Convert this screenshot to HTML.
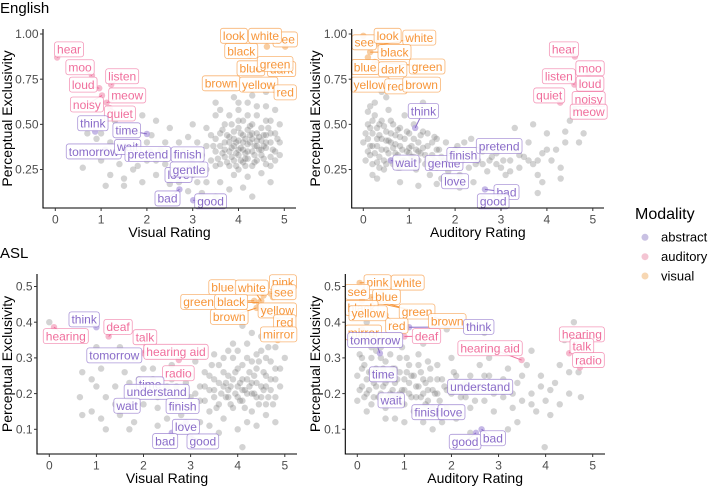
<!DOCTYPE html>
<html><head><meta charset="utf-8">
<style>
html,body{margin:0;padding:0;background:#fff;}
svg{display:block;font-family:"Liberation Sans",Arial,sans-serif;}
</style></head>
<body>
<svg id="chart" width="711" height="487" viewBox="0 0 711 487">
<text x="0" y="13" font-size="15" fill="#000">English</text>
<text x="0" y="258" font-size="15" fill="#000">ASL</text>
<g>
<text x="635" y="219" font-size="16" fill="#000">Modality</text>
<circle cx="645" cy="237.3" r="3.5" fill="#c9c1e3"/>
<text x="661" y="241.5" font-size="13" fill="#000">abstract</text>
<circle cx="645" cy="256.7" r="3.5" fill="#f4c5d3"/>
<text x="661" y="261" font-size="13" fill="#000">auditory</text>
<circle cx="645" cy="276" r="3.5" fill="#f7d7b3"/>
<text x="661" y="280.3" font-size="13" fill="#000">visual</text>
</g>
</svg>
<script>
// ---------- data ----------
const xTicks = [0,1,2,3,4,5];
const yTicksEnglish = [0.25,0.5,0.75,1.0];
const yTickLabelsEnglish = ["0.25","0.50","0.75","1.00"];
const yTicksASL = [0.1,0.2,0.3,0.4,0.5];
const yTickLabelsASL = ["0.1","0.2","0.3","0.4","0.5"];

const cloudEngVis = [3.4,.30,3.5,.35,3.5,.42,3.6,.28,3.6,.38,3.6,.45,3.7,.32,3.7,.40,3.7,.50,3.8,.27,3.8,.35,3.8,.43,3.8,.55,3.9,.30,3.9,.38,3.9,.46,4.0,.25,4.0,.33,4.0,.41,4.0,.48,4.0,.58,4.1,.29,4.1,.36,4.1,.44,4.1,.52,4.2,.31,4.2,.39,4.2,.47,4.2,.62,4.3,.27,4.3,.35,4.3,.42,4.3,.50,4.4,.30,4.4,.38,4.4,.45,4.4,.55,4.5,.33,4.5,.41,4.5,.48,4.6,.28,4.6,.37,4.6,.44,4.6,.60,4.7,.32,4.7,.40,4.7,.52,4.8,.35,4.8,.45,4.9,.40,3.3,.25,3.2,.33,3.1,.40,3.0,.28,3.0,.22,3.9,.22,4.2,.21,4.5,.23,4.8,.58,3.5,.55,3.3,.48,4.3,.66,4.6,.68,3.9,.65,3.95,.40,4.05,.37,4.15,.42,4.25,.40,4.35,.33,3.85,.37,3.75,.44,4.45,.36,4.55,.38,4.05,.30,4.15,.34,3.65,.34,
0.7,.45,0.9,.42,1.0,.30,1.1,.16,1.2,.40,1.3,.35,1.4,.28,1.5,.20,1.6,.45,1.7,.25,1.8,.38,1.9,.18,2.0,.30,2.1,.44,2.2,.22,2.3,.36,2.4,.28,2.5,.48,2.5,.17,2.6,.33,2.7,.40,2.8,.25,2.9,.43,2.9,.13,3.0,.50,1.9,.55,1.3,.52,0.6,.26,1.8,.27,2.2,.52,2.7,.18,3.1,.18,3.2,.12,3.5,.10,4.1,.15,4.3,.10,3.6,.18,
3.45,.38,3.55,.31,3.65,.47,3.75,.29,3.85,.50,3.95,.34,4.05,.45,4.15,.27,4.25,.49,4.35,.38,4.45,.43,4.55,.31,4.65,.48,4.75,.36,4.85,.42,3.9,.42,4.0,.36,4.1,.40,4.2,.35,4.3,.45,4.4,.41,4.5,.36,4.6,.40,4.7,.45,3.8,.40,3.7,.36,4.0,.52,4.2,.55,4.4,.60,4.6,.52,3.6,.58,3.4,.44,3.3,.38,3.2,.28,3.1,.24,4.8,.30,4.9,.50,4.7,.27,4.9,.33,3.5,.27,3.85,.32,4.15,.31,4.35,.29,4.55,.44,4.25,.44,3.95,.27,2.4,.40,2.0,.40,1.6,.35,1.1,.35,1.0,.45,2.6,.22,2.8,.35,3.3,.18,3.8,.14,4.7,.18,2.2,.30,1.5,.16,1.2,.22,3.5,.62,4.0,.62];

const cloudEngAud = [0.0,.40,0.05,.30,0.1,.50,0.1,.35,0.15,.60,0.2,.45,0.2,.28,0.25,.55,0.3,.38,0.3,.48,0.35,.32,0.4,.52,0.4,.42,0.45,.25,0.5,.36,0.5,.46,0.55,.58,0.6,.30,0.6,.40,0.65,.50,0.7,.34,0.7,.44,0.75,.26,0.8,.38,0.8,.48,0.85,.30,0.9,.42,0.9,.55,0.95,.35,1.0,.28,1.0,.45,1.05,.38,1.1,.32,1.1,.50,1.15,.25,1.2,.40,1.25,.34,1.3,.46,1.35,.28,1.4,.38,1.45,.22,1.5,.33,1.55,.43,1.6,.26,1.65,.36,1.7,.20,1.75,.30,1.8,.40,1.85,.24,1.9,.34,2.0,.28,2.05,.38,2.1,.22,2.2,.32,2.3,.26,2.35,.42,2.4,.18,2.5,.30,2.6,.35,2.7,.24,2.8,.32,2.9,.28,3.0,.38,3.1,.22,3.2,.30,3.3,.36,3.4,.26,3.5,.32,3.6,.40,3.7,.28,3.8,.22,3.9,.34,4.0,.45,4.1,.30,4.2,.36,4.3,.26,3.8,.12,2.1,.15,1.6,.17,1.2,.16,0.8,.18,0.3,.20,0.2,.22,0.5,.65,0.4,.68,0.25,.62,1.3,.62,0.15,.33,0.35,.44,0.55,.41,0.65,.37,0.75,.47,0.45,.49,4.5,.52,4.4,.46,4.7,.40,4.6,.58,3.7,.50,3.3,.48,
0.05,.45,0.1,.42,0.15,.38,0.2,.52,0.25,.34,0.3,.42,0.35,.50,0.4,.36,0.45,.30,0.5,.41,0.55,.34,0.6,.45,0.65,.28,0.7,.39,0.75,.33,0.8,.43,0.85,.36,0.9,.30,0.95,.46,1.0,.37,1.05,.32,1.1,.42,1.15,.36,1.2,.30,1.25,.44,1.3,.37,1.35,.33,1.4,.30,1.5,.40,1.55,.30,1.6,.36,1.7,.32,1.8,.28,1.9,.30,2.0,.36,2.15,.30,2.3,.34,2.45,.28,2.6,.28,2.75,.30,2.9,.34,3.05,.30,3.2,.24,3.4,.33,3.6,.30,3.8,.30,4.0,.36,0.1,.57,0.2,.38,0.3,.29,0.5,.28,0.6,.52,0.8,.26,1.0,.34,1.2,.35,0.35,.26,0.15,.48,1.4,.45,1.6,.42,2.2,.40,2.5,.36,3.0,.26,4.4,.40,4.8,.45,3.9,.18,4.3,.20];

const cloudAslVis = [3.2,.22,3.3,.18,3.3,.26,3.4,.21,3.4,.15,3.5,.24,3.5,.19,3.6,.28,3.6,.17,3.7,.22,3.7,.13,3.8,.25,3.8,.19,3.9,.30,3.9,.16,4.0,.22,4.0,.27,4.1,.18,4.1,.24,4.2,.20,4.2,.30,4.3,.15,4.3,.23,4.4,.27,4.4,.19,4.5,.22,4.5,.32,4.6,.17,4.6,.25,4.7,.21,4.7,.29,4.8,.19,4.8,.24,4.9,.27,5.0,.30,3.95,.20,4.05,.18,4.15,.21,3.85,.22,4.25,.26,4.35,.20,3.75,.19,4.55,.26,4.45,.29,4.65,.33,4.3,.37,4.1,.39,4.5,.36,4.0,.10,4.1,.05,4.4,.11,3.2,.12,3.0,.16,2.9,.20,2.8,.14,2.7,.22,2.6,.17,2.5,.13,2.4,.20,2.3,.16,2.2,.24,2.0,.17,1.9,.21,1.8,.12,1.7,.19,1.6,.26,1.5,.14,1.4,.22,1.3,.31,1.2,.19,1.1,.27,1.0,.22,0.9,.15,0.7,.26,0.65,.19,1.0,.33,1.5,.33,1.8,.30,2.2,.27,0.0,.40,1.2,.10,1.7,.10,2.3,.11,3.0,.25,3.1,.29,2.6,.28,3.5,.31,3.8,.32,
3.3,.22,3.4,.25,3.5,.21,3.6,.23,3.7,.26,3.8,.21,3.9,.24,4.0,.19,4.1,.21,4.2,.24,4.3,.20,4.4,.23,4.5,.19,4.6,.22,4.7,.24,4.8,.27,3.55,.16,3.65,.20,3.75,.23,3.85,.17,3.95,.26,4.05,.23,4.15,.16,4.25,.22,4.35,.25,4.45,.17,4.55,.21,4.65,.19,4.75,.17,3.45,.28,4.0,.32,4.2,.34,4.4,.31,4.6,.30,4.8,.33,3.9,.34,3.7,.30,4.3,.29,4.1,.28,4.7,.36,4.9,.22,3.2,.18,3.1,.20,3.0,.19,2.9,.23,2.7,.19,2.5,.22,2.3,.19,2.1,.21,1.9,.24,1.7,.23,1.4,.17,1.1,.13,0.9,.24,0.7,.14,2.0,.27,2.6,.24,2.8,.11,3.4,.11,3.6,.09,4.2,.12,4.6,.14,4.8,.12];

const cloudAslAud = [0.0,.18,0.0,.25,0.05,.31,0.1,.22,0.15,.28,0.2,.20,0.25,.26,0.3,.17,0.3,.30,0.35,.23,0.4,.27,0.45,.19,0.5,.25,0.55,.22,0.6,.29,0.6,.16,0.65,.24,0.7,.20,0.75,.27,0.8,.13,0.8,.23,0.85,.18,0.9,.26,0.95,.21,1.0,.24,1.0,.17,1.05,.30,1.1,.20,1.15,.25,1.2,.15,1.25,.22,1.3,.28,1.35,.19,1.4,.24,1.45,.17,1.5,.21,1.55,.27,1.6,.14,1.65,.20,1.7,.24,1.75,.18,1.8,.12,1.85,.22,1.9,.16,2.0,.20,2.05,.26,2.1,.13,2.2,.19,2.3,.23,2.4,.16,2.5,.21,2.6,.28,2.7,.18,2.8,.25,2.8,.30,2.9,.15,3.0,.22,3.1,.19,3.2,.27,3.3,.16,3.4,.23,3.5,.18,3.6,.28,3.7,.20,3.8,.15,3.9,.25,4.0,.18,4.1,.14,4.2,.23,4.3,.28,4.4,.35,4.5,.20,4.6,.40,4.7,.26,4.75,.19,3.7,.32,3.2,.10,3.98,.05,2.4,.09,1.6,.10,0.5,.33,0.3,.37,0.2,.40,0.7,.35,0.1,.35,0.4,.32,0.95,.33,2.7,.37,1.9,.38,1.4,.34,
0.05,.21,0.1,.27,0.15,.19,0.2,.24,0.25,.21,0.3,.26,0.35,.19,0.4,.22,0.45,.25,0.5,.20,0.55,.27,0.6,.23,0.65,.19,0.7,.25,0.75,.21,0.8,.27,0.85,.24,0.9,.20,0.95,.17,1.0,.21,1.05,.26,1.1,.23,1.15,.19,1.2,.25,1.25,.19,1.3,.22,1.35,.26,1.4,.20,1.45,.23,1.5,.18,1.55,.24,1.6,.21,1.7,.20,1.8,.24,1.9,.21,2.0,.23,2.1,.25,2.2,.22,2.3,.19,2.4,.25,2.5,.18,2.6,.22,2.7,.25,2.9,.20,3.1,.24,3.3,.20,3.5,.25,3.7,.17,3.9,.22,4.1,.21,4.3,.17,4.5,.26,0.1,.30,0.3,.33,0.5,.30,0.7,.31,0.9,.30,1.1,.28,1.3,.31,1.5,.29,1.7,.28,2.0,.30,0.2,.15,0.6,.13,1.0,.12,1.4,.12,2.2,.14,3.4,.12];

// [word, modality, pointX, pointY, labelX, labelY]
const wordsEngVis = [["hear","auditory",.04,.87,.30,.915],["moo","auditory",.80,.77,.54,.816],["listen","auditory",1.22,.72,1.46,.766],["loud","auditory",.96,.70,.61,.72],["meow","auditory",1.12,.62,1.57,.66],["noisy","auditory",1.02,.66,.69,.61],["quiet","auditory",1.19,.59,1.41,.56],
["think","abstract",.87,.46,.82,.506],["time","abstract",2.0,.447,1.56,.467],["tomorrow","abstract",1.09,.36,.84,.35],["wait","abstract",1.52,.38,1.58,.375],["pretend","abstract",2.07,.35,2.02,.336],["finish","abstract",2.98,.31,2.89,.334],["love","abstract",2.77,.24,2.69,.22],["gentle","abstract",2.94,.26,2.92,.25],["bad","abstract",2.71,.14,2.45,.09],["good","abstract",3.01,.08,3.39,.074],
["look","visual",4.03,.98,3.90,.99],["see","visual",5.02,.93,5.02,.97],["white","visual",4.62,.93,4.58,.99],["black","visual",4.25,.88,4.06,.906],["dark","visual",4.95,.79,4.94,.806],["blue","visual",4.51,.80,4.27,.81],["green","visual",4.64,.82,4.80,.834],["brown","visual",3.99,.72,3.62,.727],["yellow","visual",4.69,.72,4.44,.72],["red","visual",4.80,.69,5.02,.677]];

const wordsEngAud = [["see","visual",0,.99,.02,.954],["look","visual",.25,.955,.53,.99],["white","visual",.36,.94,1.22,.98],["black","visual",.15,.90,.68,.90],["blue","visual",.10,.87,.04,.817],["dark","visual",.30,.80,.64,.805],["green","visual",.25,.845,1.39,.82],["yellow","visual",.19,.71,.15,.72],["red","visual",.55,.70,.71,.71],["brown","visual",.9,.72,1.27,.72],
["think","abstract",1.13,.48,1.31,.574],["wait","abstract",.6,.30,.93,.288],["gentle","abstract",1.5,.27,1.76,.286],["finish","abstract",2.0,.32,2.18,.33],["pretend","abstract",2.6,.37,2.96,.38],["love","abstract",1.9,.19,2.0,.185],["bad","abstract",2.65,.14,3.12,.125],["good","abstract",2.6,.09,2.83,.074],
["hear","auditory",4.61,.875,4.37,.915],["moo","auditory",4.9,.78,4.94,.81],["listen","auditory",4.6,.72,4.26,.766],["loud","auditory",4.75,.72,4.94,.725],["quiet","auditory",4.29,.62,4.05,.66],["noisy","auditory",4.8,.62,4.91,.64],["meow","auditory",4.8,.56,4.91,.57]];

const wordsAslVis = [["think","abstract",1.0,.386,.74,.408],["hearing","auditory",.1,.386,.35,.361],["deaf","auditory",1.26,.36,1.46,.387],["talk","auditory",2.0,.313,2.03,.358],["tomorrow","abstract",1.29,.30,1.38,.307],["hearing aid","auditory",2.75,.294,2.69,.317],["radio","auditory",2.8,.26,2.74,.257],["time","abstract",2.2,.22,2.14,.226],["understand","abstract",2.4,.20,2.28,.205],["wait","abstract",1.7,.17,1.65,.166],["finish","abstract",2.7,.17,2.83,.165],["love","abstract",2.9,.12,2.90,.107],["bad","abstract",2.6,.09,2.46,.067],["good","abstract",3.0,.08,3.26,.066],
["blue","visual",4.55,.475,3.68,.498],["white","visual",4.5,.46,4.30,.497],["pink","visual",4.75,.47,4.96,.512],["see","visual",4.7,.48,4.98,.484],["green","visual",4.35,.46,3.17,.457],["black","visual",4.45,.455,3.86,.457],["brown","visual",4.4,.44,3.82,.415],["yellow","visual",4.5,.44,4.84,.433],["red","visual",4.55,.43,5.0,.40],["mirror","visual",4.85,.35,4.87,.366]];

const wordsAslAud = [["pink","visual",.05,.51,.43,.512],["white","visual",.5,.49,1.07,.511],["see","visual",.15,.49,0,.485],["blue","visual",.3,.47,.62,.471],["black","visual",.1,.46,.09,.44],["yellow","visual",.35,.45,.23,.425],["green","visual",.4,.455,1.27,.43],["brown","visual",.45,.46,1.91,.403],["red","visual",.6,.42,.84,.39],["mirror","visual",.1,.38,.13,.371],
["think","abstract",1.1,.386,2.58,.387],["deaf","auditory",1.0,.36,1.47,.361],["tomorrow","abstract",.48,.313,.38,.35],["hearing aid","auditory",3.49,.294,2.82,.327],["hearing","auditory",4.5,.313,4.77,.366],["talk","auditory",4.6,.33,4.77,.333],["radio","auditory",4.73,.273,4.91,.294],["time","abstract",.6,.25,.55,.254],["understand","abstract",2.2,.22,2.61,.219],["wait","abstract",.8,.19,.72,.181],["finish","abstract",1.6,.16,1.51,.148],["love","abstract",1.8,.15,2.0,.148],["good","abstract",2.52,.09,2.29,.065],["bad","abstract",2.64,.10,2.88,.075]];

// ---------- drawing ----------
const NS = "http://www.w3.org/2000/svg";
const svg = document.getElementById("chart");
const col = {abstract:"#8a6cc9", auditory:"#f06e9c", visual:"#f7963a"};
const ptCol = {abstract:"#b7a6e0", auditory:"#f4a9c2", visual:"#f6c08a"};
function mk(tag, attrs, parent){ const e=document.createElementNS(NS,tag); for(const k in attrs) e.setAttribute(k,attrs[k]); (parent||svg).appendChild(e); return e; }

function panel(cfg){
  const g = mk("g",{});
  
  
  const sx = v => cfg.x0 + cfg.xu*v;
  const sy = e => cfg.yA + (cfg.eA - e)*cfg.yu;
  const cloud = cfg.cloud;
  for(let i=0;i<cloud.length;i+=2){
    const c = mk("circle",{cx:sx(cloud[i]),cy:sy(cloud[i+1]),r:3.2,fill:"#6e6e6e","fill-opacity":0.3},g);
    
    
  }
  cfg.words.forEach(w=>{
    const c = mk("circle",{cx:sx(w[2]),cy:sy(w[3]),r:3.2,fill:ptCol[w[1]],"fill-opacity":0.8},g);
    
    
  });
  cfg.words.forEach(w=>{
    const px=sx(w[2]),py=sy(w[3]),lx=sx(w[4]),ly=sy(w[5]);
    if(Math.hypot(px-lx,py-ly)>11){
      const l = mk("line",{x1:px,y1:py,x2:lx,y2:ly,stroke:col[w[1]],"stroke-width":1},g);
      
      
    }
  });
  cfg.words.forEach(w=>{
    const lx=sx(w[4]),ly=sy(w[5]);
    const lg = mk("g",{},g);
    
    
    const t = mk("text",{x:lx,y:ly+4.3,"text-anchor":"middle","font-size":12,fill:col[w[1]]},lg);
    t.textContent = w[0];
    const wd = t.getComputedTextLength();
    const r = mk("rect",{x:lx-wd/2-2.5,y:ly-7.5,width:wd+5,height:15,rx:2.5,fill:"#fff","fill-opacity":0.9,stroke:col[w[1]],"stroke-width":0.8,"stroke-opacity":0.7});
    lg.insertBefore(r,t);
  });
  const ax = mk("path",{d:`M${cfg.left},${cfg.top}V${cfg.bottom}H${cfg.right}`,stroke:"#000","stroke-width":1.1,fill:"none"},g);
  
  
  xTicks.forEach(v=>{
    mk("line",{x1:sx(v),x2:sx(v),y1:cfg.bottom,y2:cfg.bottom+3,stroke:"#333"},g);
    const t = mk("text",{x:sx(v),y:cfg.bottom+15.5,"text-anchor":"middle","font-size":12,fill:"#4d4d4d"},g);
    
    
    t.textContent = v;
  });
  cfg.yt.forEach((v,i)=>{
    mk("line",{x1:cfg.left-3,x2:cfg.left,y1:sy(v),y2:sy(v),stroke:"#333"},g);
    const t = mk("text",{x:cfg.left-4.5,y:sy(v)+4.2,"text-anchor":"end","font-size":12,fill:"#4d4d4d"},g);
    
    
    t.textContent = cfg.ytl[i];
  });
  const xt = mk("text",{x:(cfg.left+cfg.right)/2,y:cfg.bottom+29,"text-anchor":"middle","font-size":14,fill:"#000"},g);
  
  
  xt.textContent = cfg.xtitle;
  const cy=(cfg.top+cfg.bottom)/2;
  const yt = mk("text",{x:cfg.ytx,y:cy,"text-anchor":"middle","font-size":14,fill:"#000",transform:`rotate(-90 ${cfg.ytx} ${cy})`},g);
  
  
  yt.textContent = "Perceptual Exclusivity";
}

panel({name:"english-visual-panel",cloud:cloudEngVis,words:wordsEngVis,x0:55.3,xu:45.8,yA:34,eA:1.0,yu:180.7,left:43,right:296,top:29,bottom:208,yt:yTicksEnglish,ytl:yTickLabelsEnglish,xtitle:"Visual Rating",ytx:12});
panel({name:"english-auditory-panel",cloud:cloudEngAud,words:wordsEngAud,x0:363.3,xu:45.9,yA:34,eA:1.0,yu:180.7,left:351.7,right:604,top:29,bottom:208,yt:yTicksEnglish,ytl:yTickLabelsEnglish,xtitle:"Auditory Rating",ytx:320});
panel({name:"asl-visual-panel",cloud:cloudAslVis,words:wordsAslVis,x0:49.3,xu:47.1,yA:429.3,eA:0.1,yu:357,left:37,right:297,top:274,bottom:454,yt:yTicksASL,ytl:yTickLabelsASL,xtitle:"Visual Rating",ytx:12});
panel({name:"asl-auditory-panel",cloud:cloudAslAud,words:wordsAslAud,x0:357.3,xu:47.08,yA:429.3,eA:0.1,yu:357,left:345.3,right:605,top:274,bottom:454,yt:yTicksASL,ytl:yTickLabelsASL,xtitle:"Auditory Rating",ytx:320});
</script>
</body></html>
